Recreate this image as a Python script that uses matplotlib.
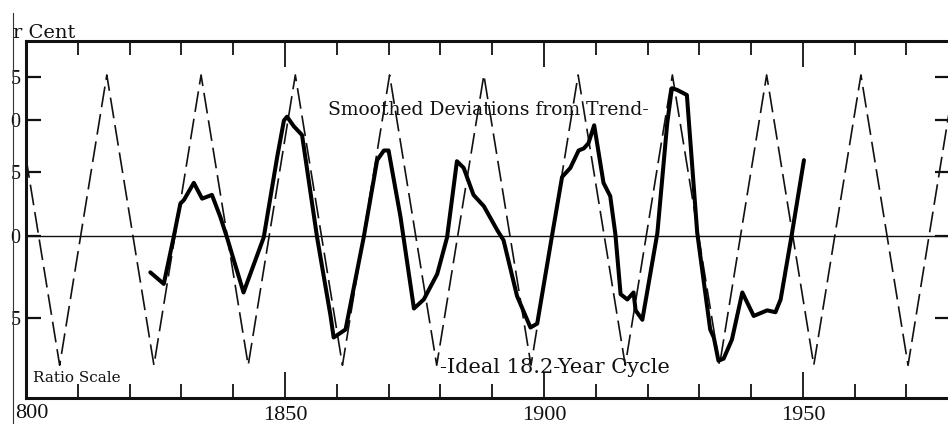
import numpy as np
import matplotlib
matplotlib.use("Agg")
import matplotlib.pyplot as plt
from matplotlib.lines import Line2D
from matplotlib.ticker import NullLocator

plt.rcParams['font.family'] = ['Liberation Serif', 'DejaVu Serif']
plt.rcParams['lines.scale_dashes'] = False

# ---- data ----
# Smoothed deviations from trend (per cent)
dev_years = [1824.0, 1826.6, 1828.5, 1829.8, 1830.5, 1832.4, 1834.0, 1835.9, 1837.5, 1838.8,
             1842.0, 1845.9, 1848.5, 1849.8, 1850.4, 1851.7, 1853.3, 1856.2, 1858.8, 1859.4,
             1861.7, 1865.2, 1867.8, 1869.1, 1870.0, 1872.3, 1874.9, 1876.8, 1879.4, 1881.3,
             1883.2, 1884.5, 1886.4, 1888.4, 1891.0, 1892.2, 1894.8, 1897.4, 1898.7, 1901.6,
             1903.5, 1905.1, 1906.7, 1907.7, 1908.6, 1909.7, 1911.5, 1912.8, 1913.8, 1914.8,
             1916.1, 1917.3, 1917.7, 1919.0, 1921.9, 1923.8, 1924.7, 1925.7, 1927.0, 1927.6,
             1929.6, 1932.1, 1932.8, 1933.7, 1934.7, 1936.3, 1938.3, 1940.5, 1943.1, 1944.7,
             1945.7, 1947.9, 1950.2]
dev_values = [-2.4, -3.1, -0.1, 2.4, 2.7, 4.1, 2.8, 3.1, 1.4, -0.1,
              -3.6, -0.1, 6.4, 10.0, 10.4, 9.4, 8.5, -0.1, -4.9, -6.0,
              -5.6, -0.1, 6.1, 7.0, 7.0, 1.4, -4.5, -4.0, -2.5, -0.1,
              6.0, 5.4, 3.1, 2.2, 0.4, -0.3, -3.8, -5.5, -5.3, 0.1,
              4.6, 5.4, 7.0, 7.2, 7.7, 9.5, 4.1, 3.0, 0.1, -3.7,
              -4.0, -3.6, -4.6, -5.1, 0.2, 9.7, 13.6, 13.4, 13.0, 12.8,
              0.2, -5.6, -6.0, -7.1, -7.0, -6.1, -3.6, -4.9, -4.6, -4.7,
              -4.0, 0.2, 6.1]

# Ideal 18.2-year cycle: turning points (year, per cent)
cycle_years = [1797.4, 1806.5, 1815.6, 1824.7, 1833.8, 1842.9, 1852.0, 1861.1, 1870.2,
               1879.3, 1888.4, 1897.5, 1906.6, 1915.7, 1924.8, 1933.9, 1943.0, 1952.1,
               1961.2, 1970.3, 1979.4]
cycle_values = [15.2, -7.3, 15.2, -7.3, 15.2, -7.3, 15.2, -7.3, 15.2,
                -7.3, 15.2, -7.3, 15.2, -7.3, 15.2, -7.3, 15.2, -7.3,
                15.2, -7.3, 15.2]

x_major = [1800, 1850, 1900, 1950]
x_major_labels = ['', '1850', '1900', '1950']
x_minor = [1810, 1820, 1830, 1840, 1860, 1870, 1880, 1890, 1910, 1920, 1930, 1940, 1960, 1970]
y_ticks = [15, 10, 5, 0, -5]
y_tick_labels = ['5', '0', '5', '0', '5']

# ---- figure ----
W, H = 948, 424
fig = plt.figure(figsize=(W / 100, H / 100), dpi=100)
fig.patch.set_facecolor('white')
ax = fig.add_axes([26 / W, 26 / H, 924 / W, 357 / H])

fwd = lambda p: np.log10(np.asarray(p, dtype=float) + 20.0)
inv = lambda y: 10.0 ** np.asarray(y, dtype=float) - 20.0
ax.set_yscale('function', functions=(fwd, inv))
ax.set_xlim(1800, 1978.4)
ax.set_ylim(-8.68, 19.66)

ink = '#111111'
ax.plot(cycle_years, cycle_values, color=ink, lw=1.2, linestyle=(0, (15, 5)), zorder=2)
ax.axhline(0, color=ink, lw=1.0, zorder=1)
ax.plot(dev_years, dev_values, color='black', lw=2.9, solid_joinstyle='round',
        solid_capstyle='round', zorder=3)

for s in ax.spines.values():
    s.set_linewidth(2.2)
    s.set_color(ink)

ax.set_xticks(x_major)
ax.set_xticklabels(x_major_labels)
ax.set_xticks(x_minor, minor=True)
ax.tick_params(axis='x', which='major', direction='in', length=19, width=1.3,
               top=True, bottom=True, pad=6, labelsize=16, colors=ink)
ax.tick_params(axis='x', which='minor', direction='in', length=10, width=1.3,
               top=True, bottom=True, colors=ink)
ax.set_yticks(y_ticks)
ax.set_yticklabels(y_tick_labels)
ax.yaxis.set_minor_locator(NullLocator())
ax.tick_params(axis='y', which='major', direction='in', length=11, width=1.6,
               left=True, right=True, pad=4, labelsize=14.5, colors=ink)

# first x label, partly cut off in the original scan
ax.annotate('800', xy=(1800, 0), xycoords=('data', 'axes fraction'),
            xytext=(6, -6), textcoords='offset pixels', ha='center', va='top',
            fontsize=16, color=ink)

ax.text(1920.2, 10.6, 'Smoothed Deviations from Trend-', family=['DejaVu Serif'],
        fontsize=13.5, ha='right', va='baseline', color=ink, zorder=4)
ax.text(1880.0, -7.64, '-Ideal 18.2-Year Cycle', family=['DejaVu Serif'],
        fontsize=15, ha='left', va='baseline', color=ink, zorder=4)
ax.text(1801.4, -8.02, 'Ratio Scale', family=['DejaVu Serif'],
        fontsize=11, ha='left', va='baseline', color=ink, zorder=4)
fig.text(13 / W, 1 - 38 / H, 'r Cent', family=['DejaVu Serif'], fontsize=14,
         ha='left', va='baseline', color=ink)

# scan crop edge
fig.add_artist(Line2D([12.5 / W, 12.5 / W], [0, 1 - 13 / H], transform=fig.transFigure,
                      color='#333333', lw=0.8))

fig.savefig('out.png', dpi=100, facecolor='white')
